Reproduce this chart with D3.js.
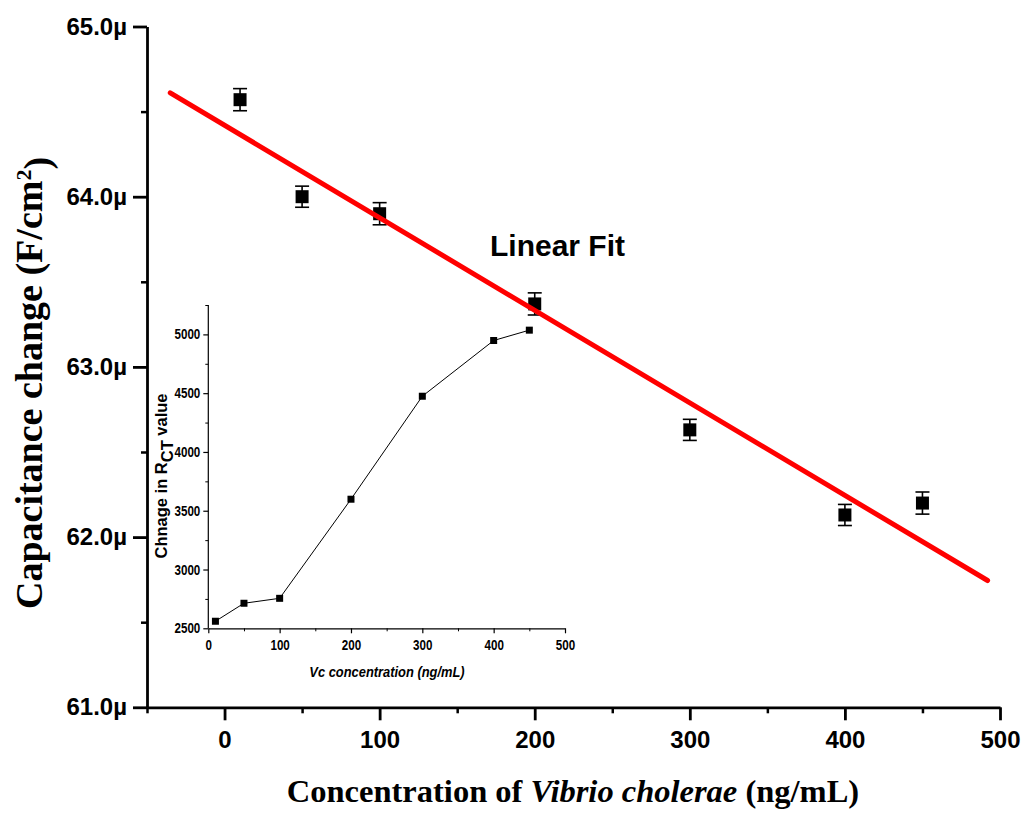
<!DOCTYPE html>
<html>
<head>
<meta charset="utf-8">
<script src="https://cdn.jsdelivr.net/npm/d3@7"></script>
<style>
  body { margin: 0; background: #fff; }
  svg { display: block; }
</style>
</head>
<body>
<div id="chart"></div>
<script>
'use strict';

// main plot: capacitance change vs. Vibrio cholerae concentration
var concentration = [10, 50, 100, 200, 300, 400, 450];
var capacitance = [64.57, 64.00, 63.90, 63.37, 62.63, 62.13, 62.20];
var capacitanceErr = [0.065, 0.062, 0.065, 0.065, 0.062, 0.062, 0.065];
var fitX = [-35, 492];
var fitY = [64.61, 61.745];
var mainXTicks = [0, 100, 200, 300, 400, 500];
var mainXMinor = [-50, 50, 150, 250, 350, 450];
var mainYTicks = [61, 62, 63, 64, 65];
var mainYMinor = [61.5, 62.5, 63.5, 64.5];
var mainYTickLabels = ['61.0\u00b5', '62.0\u00b5', '63.0\u00b5', '64.0\u00b5', '65.0\u00b5'];

// inset: RCT change vs. Vc concentration
var vcConcentration = [10, 50, 100, 200, 300, 400, 450];
var rctChange = [2560, 2713, 2755, 3598, 4474, 4948, 5036];
var insetXTicks = [0, 100, 200, 300, 400, 500];
var insetXMinor = [50, 150, 250, 350, 450];
var insetYTicks = [2500, 3000, 3500, 4000, 4500, 5000];
var insetYMinor = [2750, 3250, 3750, 4250, 4750, 5250];

var w = 1025,
  h = 813;

var svg = d3.select('#chart')
  .append('svg')
  .attr('width', w)
  .attr('height', h);

var sans = 'Arial, "Liberation Sans", Helvetica, sans-serif';
var serif = '"Times New Roman", "Liberation Serif", Times, serif';
var squeeze = 0.83; // inset text is a condensed face

// ---------- main axes ----------
var x = d3.scaleLinear().domain([-50, 500]).range([147, 1000]);
var y = d3.scaleLinear().domain([61, 65]).range([707.3, 26.5]);

function styleAxis(g, width) {
  g.select('.domain').attr('stroke', '#000').attr('stroke-width', width);
  g.selectAll('.tick line').attr('stroke', '#000').attr('stroke-width', width);
}

function styleLabels(g, size) {
  g.selectAll('.tick text')
    .attr('fill', '#000')
    .style('font-family', sans)
    .style('font-weight', 'bold')
    .style('font-size', size + 'px');
}

var gxMinor = svg.append('g')
  .attr('transform', 'translate(0,' + y(61) + ')')
  .call(d3.axisBottom(x).tickValues(mainXMinor).tickSize(6).tickFormat(''));
gxMinor.select('.domain').remove();
styleAxis(gxMinor, 2.5);

var gyMinor = svg.append('g')
  .attr('transform', 'translate(' + x(-50) + ',0)')
  .call(d3.axisLeft(y).tickValues(mainYMinor).tickSize(6).tickFormat(''));
gyMinor.select('.domain').remove();
styleAxis(gyMinor, 2.5);

var gx = svg.append('g')
  .attr('transform', 'translate(0,' + y(61) + ')')
  .call(d3.axisBottom(x).tickValues(mainXTicks).tickSize(13).tickSizeOuter(0).tickPadding(11));
styleAxis(gx, 2.8);
styleLabels(gx, 24);

var gy = svg.append('g')
  .attr('transform', 'translate(' + x(-50) + ',0)')
  .call(d3.axisLeft(y).tickValues(mainYTicks).tickSize(14).tickSizeOuter(0).tickPadding(6)
    .tickFormat(function(d, i) { return mainYTickLabels[i]; }));
styleAxis(gy, 2.8);
styleLabels(gy, 24);

// axis titles
var xTitle = svg.append('text')
  .attr('x', 573)
  .attr('y', 802)
  .attr('text-anchor', 'middle')
  .style('font-family', serif)
  .style('font-weight', 'bold')
  .style('font-size', '32.5px');
xTitle.append('tspan').text('Concentration of ');
xTitle.append('tspan').style('font-style', 'italic').text('Vibrio cholerae');
xTitle.append('tspan').text(' (ng/mL)');

var yTitle = svg.append('text')
  .attr('transform', 'translate(42,383) rotate(-90)')
  .attr('text-anchor', 'middle')
  .style('font-family', serif)
  .style('font-weight', 'bold')
  .style('font-size', '38px');
yTitle.append('tspan').text('Capacitance change (F/cm');
yTitle.append('tspan').attr('dy', '-0.5em').style('font-size', '22px').text('2');
yTitle.append('tspan').attr('dy', '0.5em').text(')');

// ---------- inset ----------
var ix = d3.scaleLinear().domain([0, 500]).range([208.3, 565]);
var iy = d3.scaleLinear().domain([2500, 5250]).range([628.3, 305]);

var igxMinor = svg.append('g')
  .attr('transform', 'translate(0,' + iy(2500) + ')')
  .call(d3.axisBottom(ix).tickValues(insetXMinor).tickSize(3).tickFormat(''));
igxMinor.select('.domain').remove();
styleAxis(igxMinor, 1);

var igyMinor = svg.append('g')
  .attr('transform', 'translate(' + ix(0) + ',0)')
  .call(d3.axisLeft(iy).tickValues(insetYMinor).tickSize(3).tickFormat(''));
igyMinor.select('.domain').remove();
styleAxis(igyMinor, 1);

var igx = svg.append('g')
  .attr('transform', 'translate(0,' + iy(2500) + ')')
  .call(d3.axisBottom(ix).tickValues(insetXTicks).tickSize(5).tickSizeOuter(0).tickPadding(7)
    .tickFormat(d3.format('d')));
styleAxis(igx, 1.2);
styleLabels(igx, 14);
igx.selectAll('.tick text').attr('transform', 'scale(' + squeeze + ',1)');

var igy = svg.append('g')
  .attr('transform', 'translate(' + ix(0) + ',0)')
  .call(d3.axisLeft(iy).tickValues(insetYTicks).tickSize(5).tickSizeOuter(0).tickPadding(3)
    .tickFormat(d3.format('d')));
styleAxis(igy, 1.2);
igy.select('.domain').attr('d', 'M0,' + iy(5250) + 'V' + iy(2500));
styleLabels(igy, 14);
igy.selectAll('.tick text')
  .attr('x', -8 / squeeze)
  .attr('transform', 'scale(' + squeeze + ',1)');

svg.append('text')
  .attr('transform', 'translate(387,677) scale(0.86,1)')
  .attr('text-anchor', 'middle')
  .style('font-family', sans)
  .style('font-weight', 'bold')
  .style('font-style', 'italic')
  .style('font-size', '15px')
  .text('Vc concentration (ng/mL)');

var iyTitle = svg.append('text')
  .attr('transform', 'translate(167,476) rotate(-90)')
  .attr('text-anchor', 'middle')
  .style('font-family', sans)
  .style('font-weight', 'bold')
  .style('font-size', '16.5px');
iyTitle.append('tspan').text('Chnage in R');
iyTitle.append('tspan').attr('dy', '6').text('CT');
iyTitle.append('tspan').attr('dy', '-6').text(' value');

var inset = vcConcentration.map(function(d, i) { return [d, rctChange[i]]; });

svg.append('path')
  .datum(inset)
  .attr('fill', 'none')
  .attr('stroke', '#000')
  .attr('stroke-width', 1)
  .attr('d', d3.line()
    .x(function(d) { return ix(d[0]); })
    .y(function(d) { return iy(d[1]); }));

svg.append('g')
  .selectAll('rect')
  .data(inset)
  .join('rect')
  .attr('x', function(d) { return ix(d[0]) - 3.5; })
  .attr('y', function(d) { return iy(d[1]) - 3.5; })
  .attr('width', 7)
  .attr('height', 7)
  .attr('fill', '#000');

// ---------- main data ----------
var pts = concentration.map(function(d, i) {
  return { x: d, y: capacitance[i], e: capacitanceErr[i] };
});

var bars = svg.append('g')
  .selectAll('g')
  .data(pts)
  .join('g')
  .attr('stroke', '#000')
  .attr('stroke-width', 1.6);

bars.append('line')
  .attr('x1', function(d) { return x(d.x); })
  .attr('x2', function(d) { return x(d.x); })
  .attr('y1', function(d) { return y(d.y + d.e); })
  .attr('y2', function(d) { return y(d.y - d.e); });
bars.append('line')
  .attr('x1', function(d) { return x(d.x) - 7; })
  .attr('x2', function(d) { return x(d.x) + 7; })
  .attr('y1', function(d) { return y(d.y + d.e); })
  .attr('y2', function(d) { return y(d.y + d.e); });
bars.append('line')
  .attr('x1', function(d) { return x(d.x) - 7; })
  .attr('x2', function(d) { return x(d.x) + 7; })
  .attr('y1', function(d) { return y(d.y - d.e); })
  .attr('y2', function(d) { return y(d.y - d.e); });

svg.append('g')
  .selectAll('rect')
  .data(pts)
  .join('rect')
  .attr('x', function(d) { return x(d.x) - 6.5; })
  .attr('y', function(d) { return y(d.y) - 6.5; })
  .attr('width', 13)
  .attr('height', 13)
  .attr('fill', '#000');

// linear fit
svg.append('line')
  .attr('x1', x(fitX[0]))
  .attr('y1', y(fitY[0]))
  .attr('x2', x(fitX[1]))
  .attr('y2', y(fitY[1]))
  .attr('stroke', '#ff0000')
  .attr('stroke-width', 5)
  .attr('stroke-linecap', 'round');

svg.append('text')
  .attr('x', 490)
  .attr('y', 256)
  .style('font-family', sans)
  .style('font-weight', 'bold')
  .style('font-size', '30px')
  .text('Linear Fit');
</script>
</body>
</html>
